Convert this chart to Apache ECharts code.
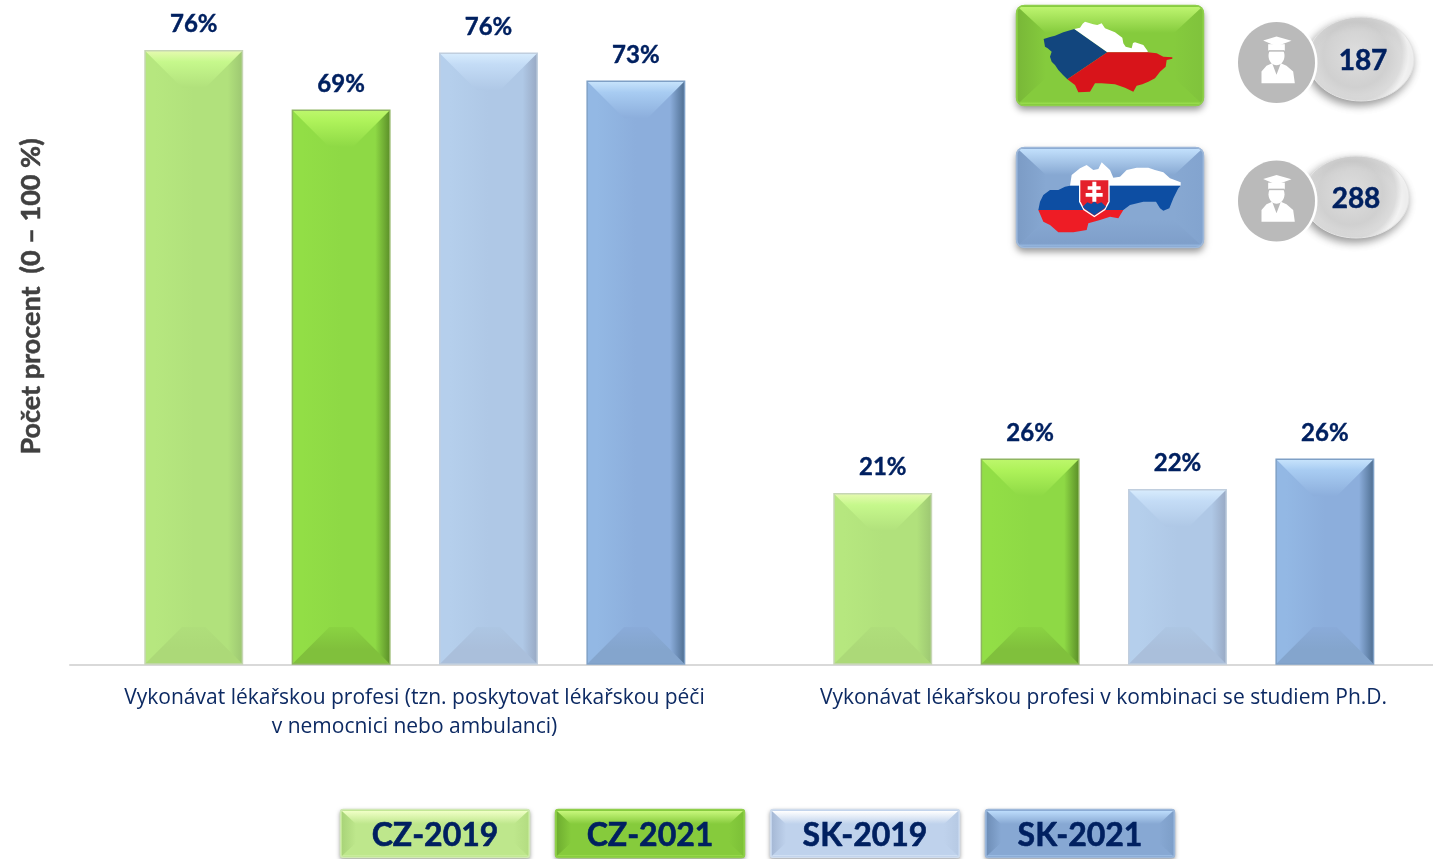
<!DOCTYPE html>
<html>
<head>
<meta charset="utf-8">
<style>html,body{margin:0;padding:0;background:#fff;overflow:hidden;width:1433px;height:859px}#c{width:1450px;height:859px}</style>
<script src="https://cdn.jsdelivr.net/npm/echarts@6/dist/echarts.min.js"></script>
</head>
<body>
<div id="c"></div>
<script>
var categories = ['Vykonávat lékařskou profesi (tzn. poskytovat lékařskou péči\nv nemocnici nebo ambulanci)', 'Vykonávat lékařskou profesi v kombinaci se studiem Ph.D.'];
var seriesNames = ['CZ-2019', 'CZ-2021', 'SK-2019', 'SK-2021'];
var cz2019 = [76.4, 21.3];
var cz2021 = [69.0, 25.6];
var sk2019 = [76.1, 21.8];
var sk2021 = [72.6, 25.6];
var respondentsCZ = '187';
var respondentsSK = '288';
var axisTitle = 'Počet procent  (0 – 100 %)';

var NAVY = '#002060';
var LATO = 'Lato, Carlito, sans-serif';

var barPalette = [
  {edge:'#c6d6b4', l:'#b6e77f', m:'#b1e17c', r:'#9dc772', top:'#e6fab0', top2:'#c6f88c', bot:'#acd978', bot2:'#afde7b'},
  {edge:'#8fb562', l:'#92de46', m:'#8ed945', r:'#5c9029', top:'#bdf76c', top2:'#aef25a', bot:'#80c03c', bot2:'#8ad342'},
  {edge:'#c0cede', l:'#b5cfec', m:'#afc8e6', r:'#98a9c4', top:'#d8ecfd', top2:'#c4dcf6', bot:'#aabfdb', bot2:'#adc6e3'},
  {edge:'#7fa0c6', l:'#93b8e4', m:'#8caedc', r:'#4f6f92', top:'#c8e4fc', top2:'#a8ccf2', bot:'#84a5cd', bot2:'#8aabd9'}
];

function hGrad(stops){return {type:'linear',x:0,y:0,x2:1,y2:0,colorStops:stops.map(function(s){return {offset:s[0],color:s[1]};})};}
function vGrad(stops){return {type:'linear',x:0,y:0,x2:0,y2:1,colorStops:stops.map(function(s){return {offset:s[0],color:s[1]};})};}

function renderBar(params, api){
  var si = params.seriesIndex, p = barPalette[si];
  var cat = api.value(0), val = api.value(1);
  var topPt = api.coord([cat, val]), basePt = api.coord([cat, 0]);
  var band = api.size([1, 0])[0];
  var w = band * 0.1414, step = band * 0.2139;
  var cx = topPt[0] + (si - 1.5) * step + 0.3;
  var x0 = cx - w / 2, x1 = cx + w / 2, y0 = topPt[1], y1 = basePt[1] - 1;
  var b = 37;
  return {type:'group', children:[
    {type:'rect', shape:{x:x0,y:y0,width:w,height:y1-y0},
      style:{fill:hGrad([[0,p.l],[0.1,p.l],[0.5,p.m],[0.85,p.m],[1,p.r]])}},
    {type:'polygon', shape:{points:[[x0,y0],[x1,y0],[x1-b,y0+b],[x0+b,y0+b]]},
      style:{fill:vGrad([[0,p.top],[0.3,p.top2],[1,p.m]])}},
    {type:'polygon', shape:{points:[[x0,y1],[x1,y1],[x1-b,y1-b],[x0+b,y1-b]]},
      style:{fill:vGrad([[0,p.bot2],[0.6,p.bot],[1,p.bot]])}},
    {type:'rect', shape:{x:x0,y:y0,width:w,height:y1-y0},
      style:{fill:'none',stroke:p.edge,lineWidth:1.5}},
    {type:'text', style:{text:Math.round(val)+'%',x:cx,y:y0-26,align:'center',verticalAlign:'middle',
      fill:NAVY,stroke:NAVY,lineWidth:0.4,fontFamily:LATO,fontWeight:'bold',fontSize:24}}
  ]};
}

function makeSeries(i, values){
  return {type:'custom', name:seriesNames[i], renderItem:renderBar, clip:false,
    encode:{x:0,y:1}, data:values.map(function(v,k){return [k,v];})};
}

/* bevelled box used by flags and legend keys */
function bevelBox(x,y,w,h,bx,by,c,opt){
  opt = opt || {};
  var out = [];
  out.push({type:'rect',shape:{x:x,y:y,width:w,height:h,r:opt.r||6},
    style:{fill:c.mid,shadowBlur:opt.blur||7,shadowColor:'rgba(0,0,0,0.4)',shadowOffsetY:opt.sy||4}});
  var i = 2, X0=x+i, X1=x+w-i, Y0=y+i, Y1=y+h-i;
  out.push({type:'polygon',shape:{points:[[X0,Y0],[X0+bx,Y0+by],[X0+bx,Y1-by],[X0,Y1]]},style:{fill:hGrad([[0,c.left],[1,c.mid]])}});
  out.push({type:'polygon',shape:{points:[[X1,Y0],[X1-bx,Y0+by],[X1-bx,Y1-by],[X1,Y1]]},style:{fill:hGrad([[0,c.mid],[1,c.right]])}});
  out.push({type:'polygon',shape:{points:[[X0,Y0],[X1,Y0],[X1-bx,Y0+by],[X0+bx,Y0+by]]},style:{fill:vGrad([[0,c.top],[1,c.mid]])}});
  out.push({type:'polygon',shape:{points:[[X0,Y1],[X1,Y1],[X1-bx,Y1-by],[X0+bx,Y1-by]]},style:{fill:vGrad([[0,c.mid],[0.9,c.bot],[1,c.botEdge]])}});
  out.push({type:'rect',shape:{x:x+0.5,y:y+0.5,width:w-1,height:h-1,r:opt.r||6},style:{fill:'none',stroke:c.edge,lineWidth:1.5}});
  return out;
}

function zoomPts(arr, ox, oy){return arr.map(function(p){return [ox+p[0]/3, oy+p[1]/3];});}
function poly(arr, ox, oy, fill){return {type:'polygon',shape:{points:zoomPts(arr,ox,oy)},style:{fill:fill}};}

/* Czech map outline */
var czBlue = [[118,42],[217,112],[97,193],[84,180],[70,165],[60,150],[50,140],[45,125],[50,110],[38,100],[30,95],[26,72],[45,66],[60,62],[85,52]];
var czWhite = [[118,42],[135,38],[143,26],[150,20],[175,28],[187,30],[200,25],[210,40],[240,52],[262,68],[265,85],[272,95],[290,100],[294,84],[300,82],[325,90],[338,108],[338,112],[217,112]];
var czRed = [[217,112],[338,112],[365,115],[385,125],[412,127],[412,131],[395,135],[392,155],[375,170],[360,190],[340,200],[322,208],[305,212],[295,230],[270,218],[240,208],[200,205],[180,205],[165,230],[130,232],[120,210],[97,193]];
/* Slovak map outline */
var skWhite = [[120,92],[125,60],[150,40],[170,30],[190,45],[205,42],[215,22],[240,45],[250,68],[270,65],[290,45],[320,38],[355,38],[375,45],[400,52],[420,70],[452,82],[452,92]];
var skBlue = [[120,92],[452,92],[445,100],[430,130],[418,160],[400,167],[390,160],[378,140],[340,140],[300,150],[280,165],[25,165],[30,140],[40,120],[60,105],[85,105],[105,95]];
var skRed = [[25,165],[280,165],[265,190],[240,185],[210,195],[175,205],[170,225],[130,232],[85,232],[60,210],[40,200]];
var shieldOuter = [[147,72],[239,72],[239,140],[226,165],[193,187],[160,165],[147,140]];
var shieldInner = [[151,76],[235,76],[235,139],[223,162],[193,182],[163,162],[151,139]];
var shieldHills = [[158,155],[172,142],[184,147],[193,139],[202,147],[214,142],[228,155],[222,161],[193,181],[164,161]];
var shieldCross = [[187,80],[199,80],[199,94],[212,94],[212,104],[199,104],[199,114],[218,114],[218,125],[199,125],[199,140],[187,140],[187,125],[167,125],[167,114],[187,114],[187,104],[173,104],[173,94],[187,94]];

function person(cx, cy){
  var ox = cx - 125/3, oy = cy - 143/3;
  return [
    {type:'ellipse',shape:{cx:cx,cy:cy,rx:41,ry:43},style:{fill:'#fff'}},
    {type:'ellipse',shape:{cx:cx,cy:cy,rx:38.5,ry:40.5},style:{fill:'#bababa'}},
    poly([[100,88],[150,88],[150,108],[100,108]],ox,oy,'#fff'),
    poly([[85,77],[125,65],[170,78],[125,94]],ox,oy,'#fff'),
    {type:'ellipse',shape:{cx:cx,cy:cy-20/3,rx:8,ry:9.5},style:{fill:'#fff'}},
    {type:'rect',shape:{x:cx-8,y:cy-37/3,width:16,height:1.5},style:{fill:'#bababa'}},
    poly([[80,205],[80,170],[95,153],[112,145],[125,180],[138,145],[155,153],[175,170],[180,205]],ox,oy,'#fff')
  ];
}
function pill(cx, cy, rx, ry, label, tx){
  return [
    {type:'ellipse',shape:{cx:cx,cy:cy,rx:rx,ry:ry},
      style:{fill:{type:'radial',x:0.45,y:0.45,r:0.62,colorStops:[{offset:0,color:'#dedede'},{offset:0.62,color:'#d0d0d0'},{offset:0.88,color:'#dcdcdc'},{offset:1,color:'#f6f6f6'}]},
        stroke:'#e4e4e4',lineWidth:1,shadowBlur:8,shadowColor:'rgba(0,0,0,0.4)',shadowOffsetX:-2,shadowOffsetY:4}},
    {type:'text',style:{text:label,x:tx,y:cy+2,align:'center',verticalAlign:'middle',fill:NAVY,stroke:NAVY,lineWidth:0.5,fontFamily:LATO,fontWeight:'bold',fontSize:28}}
  ];
}

var czBox = {mid:'#85cb3d',left:'#79b838',right:'#80c33c',top:'#bdf46f',bot:'#85cb3d',botEdge:'#9bdf4e',edge:'#8fcf4c'};
var skBox = {mid:'#87a8d2',left:'#7c9cc6',right:'#83a4cf',top:'#c2e0fc',bot:'#7f9fca',botEdge:'#96b8e0',edge:'#9fb9da'};
var legendBox = [
  {mid:'#bee78c',left:'#a9d479',right:'#b4dd82',top:'#f0ffc6',bot:'#bee78c',botEdge:'#d0f0a5',edge:'#d0e8b4'},
  {mid:'#86cb3c',left:'#6fae30',right:'#7dc138',top:'#c8f77c',bot:'#86cb3c',botEdge:'#9fe051',edge:'#90cf4c'},
  {mid:'#bfd2ec',left:'#a6b9d6',right:'#b7cae4',top:'#ffffff',bot:'#bfd2ec',botEdge:'#dbe8f8',edge:'#d0dcec'},
  {mid:'#87a8d3',left:'#6f8fb8',right:'#7e9fc9',top:'#bcdcfb',bot:'#87a8d3',botEdge:'#a4c6ec',edge:'#9db8da'}
];
var legendX = [340, 555, 770, 985];

var g = [];
g = g.concat(bevelBox(1016,5,188,101,28,26,czBox,{r:8}));
g.push(poly(czBlue,1035,15,'#12467e'), poly(czWhite,1035,15,'#ffffff'), poly(czRed,1035,15,'#d8141a'));
g = g.concat(bevelBox(1016,147,188,101,28,26,skBox,{r:8}));
g.push(poly(skWhite,1030,155,'#ffffff'), poly(skBlue,1030,155,'#0d4ea3'), poly(skRed,1030,155,'#ee1c25'));
g.push(poly(shieldOuter,1030,155,'#ffffff'), poly(shieldInner,1030,155,'#e4202c'), poly(shieldHills,1030,155,'#0d4ea3'), poly(shieldCross,1030,155,'#ffffff'));
g = g.concat(pill(1361,59,53,42,respondentsCZ,1363));
g = g.concat(person(1276.5,62.5));
g = g.concat(pill(1356,197,53,41,respondentsSK,1356));
g = g.concat(person(1276.5,201));
seriesNames.forEach(function(name,i){
  g = g.concat(bevelBox(legendX[i],809,190,49,14,13,legendBox[i],{r:3,blur:4,sy:2}));
  g.push({type:'text',style:{text:name,x:legendX[i]+95,y:836,align:'center',verticalAlign:'middle',fill:NAVY,stroke:NAVY,lineWidth:0.6,fontFamily:LATO,fontWeight:'bold',fontSize:32}});
});

var chart = echarts.init(document.getElementById('c'), null, {renderer:'canvas'});
chart.setOption({
  animation:false,
  backgroundColor:'#fff',
  grid:{left:70,top:0,width:1378,height:665,containLabel:false},
  xAxis:{type:'category',data:categories,
    axisLine:{show:true,lineStyle:{color:'#d9d9d9',width:2}},
    axisTick:{show:false},
    axisLabel:{show:true,interval:0,margin:19,color:'#0d2a63',fontFamily:'"Open Sans", sans-serif',fontSize:21,lineHeight:29}},
  yAxis:{type:'value',min:0,max:82.71,
    name:axisTitle,nameLocation:'middle',nameGap:25,nameRotate:90,
    nameTextStyle:{color:'#404040',textBorderColor:'#404040',textBorderWidth:0.5,fontFamily:LATO,fontWeight:'bold',fontSize:27,padding:[0,0,0,72]},
    axisLine:{show:false},axisTick:{show:false},axisLabel:{show:false},splitLine:{show:false}},
  series:[makeSeries(0,cz2019),makeSeries(1,cz2021),makeSeries(2,sk2019),makeSeries(3,sk2021)],
  graphic:{elements:g.map(function(e){e.silent=true;return e;})}
});
</script>
</body>
</html>
